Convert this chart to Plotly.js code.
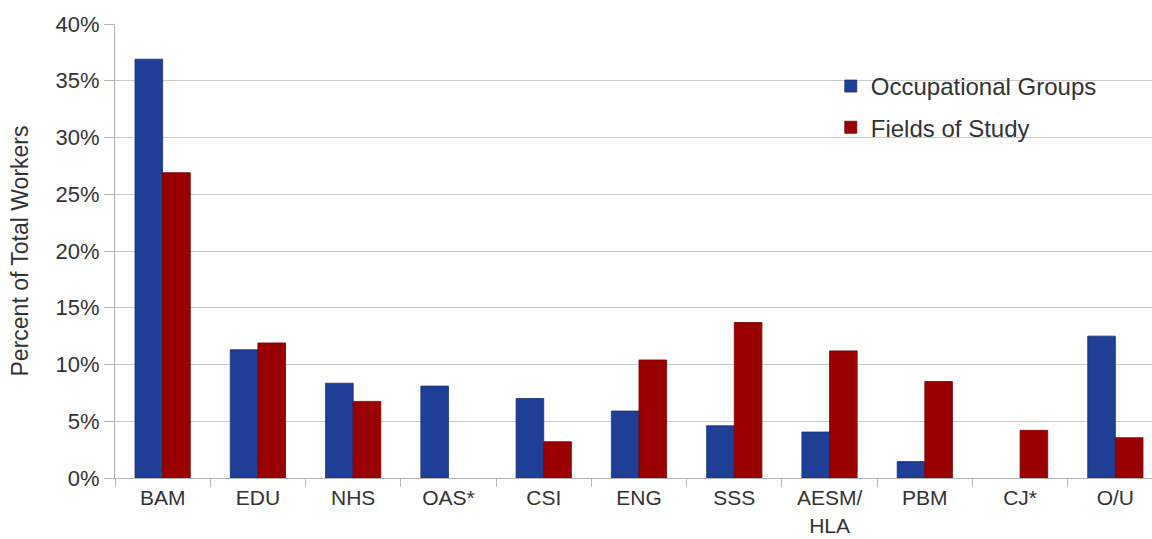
<!DOCTYPE html>
<html>
<head>
<meta charset="utf-8">
<script src="https://cdn.plot.ly/plotly-3.0.1.min.js"></script>
<style>
  html, body { margin: 0; padding: 0; background: #fff; overflow: hidden; width: 1152px; height: 539px; }
  #chart { width: 1173px; height: 539px; }
</style>
</head>
<body>
<div id="chart"></div>
<script>
const categories = ['BAM', 'EDU', 'NHS', 'OAS*', 'CSI', 'ENG', 'SSS', 'AESM/<br>HLA', 'PBM', 'CJ*', 'O/U'];
const occupationalGroups = [36.9, 11.3, 8.35, 8.1, 7.0, 5.9, 4.6, 4.05, 1.45, null, 12.5];
const fieldsOfStudy = [26.9, 11.9, 6.75, null, 3.2, 10.4, 13.7, 11.2, 8.5, 4.2, 3.55];
const seriesNames = ['Occupational Groups', 'Fields of Study'];
const yTickValues = [0, 5, 10, 15, 20, 25, 30, 35, 40];
const yTickLabels = ['0%', '5%', '10%', '15%', '20%', '25%', '30%', '35%', '40%'];

const FONT = 'Liberation Sans, Arial, sans-serif';
const TEXT = '#333333';
const FS = 22;

const traces = [
  {
    type: 'bar', name: seriesNames[0], x: categories, y: occupationalGroups,
    marker: { color: '#1F3F97', line: { color: '#17307A', width: 0.8 } },
    legendgroup: 'a', hoverinfo: 'x+y'
  },
  {
    type: 'bar', name: seriesNames[1], x: categories, y: fieldsOfStudy,
    marker: { color: '#9A0000', line: { color: '#7A0000', width: 0.8 } },
    legendgroup: 'b', hoverinfo: 'x+y'
  }
];

const layout = {
  width: 1173, height: 539,
  margin: { l: 115, r: 10, t: 24, b: 61, pad: 0 },
  paper_bgcolor: '#ffffff', plot_bgcolor: '#ffffff',
  font: { family: FONT, size: FS, color: TEXT },
  barmode: 'group', bargap: 0.42, bargroupgap: 0,
  showlegend: true,
  legend: {
    x: 0.683, y: 0.912, xanchor: 'left', yanchor: 'top',
    font: { family: FONT, size: 24, color: TEXT },
    traceorder: 'grouped', tracegroupgap: 7,
    bgcolor: 'rgba(255,255,255,0)', borderwidth: 0
  },
  xaxis: {
    type: 'category', showgrid: false, zeroline: false,
    showline: true, linecolor: '#b4b4b4', linewidth: 1,
    ticks: 'outside', tickson: 'boundaries', ticklen: 8, tickcolor: '#b4b4b4',
    ticklabelstandoff: 1,
    tickfont: { family: FONT, size: 21, color: TEXT }
  },
  yaxis: {
    range: [0, 40], tickvals: yTickValues, ticktext: yTickLabels,
    showgrid: true, gridcolor: '#cccccc', gridwidth: 1,
    zeroline: false, showline: true, linecolor: '#b4b4b4', linewidth: 1,
    ticks: 'outside', ticklen: 10, tickcolor: '#b4b4b4',
    tickfont: { family: FONT, size: FS, color: TEXT },
    title: { text: 'Percent of Total Workers', font: { family: FONT, size: 23, color: TEXT }, standoff: 20 }
  }
};

Plotly.newPlot('chart', traces, layout, { staticPlot: true, displayModeBar: false });
</script>
</body>
</html>
